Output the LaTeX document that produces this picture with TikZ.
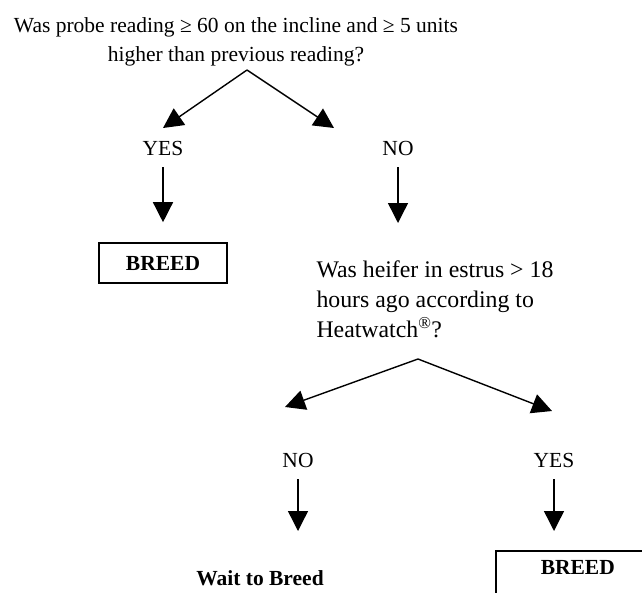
\documentclass[tikz,border=0pt]{standalone}
\usepackage{fontspec}
\setmainfont{Liberation Serif}
\usepackage{xcolor}
\usepackage{tikz}
\usetikzlibrary{
  positioning,
  calc,
  arrows.meta
}

\begin{document}
\begin{tikzpicture}[x=1pt,y=-1pt,
    font=\fontsize{21.5}{29}\selectfont,
    arr/.style={-{Triangle[length=20pt,width=20pt]},line width=1.4pt},
    ans/.style={inner sep=0pt},
    res/.style={font=\fontsize{21.5}{29}\selectfont\bfseries,inner sep=0pt},
    resbox/.style={res,draw,line width=1.6pt,inner xsep=0pt}]
  \useasboundingbox (0,0) rectangle (642,592);
  \clip (0,0) rectangle (642,592);
  % 最初の質問
  \node[align=center] (q1) at (236,42)
    {Was probe reading ≥ 60 on the incline and ≥ 5 units\\higher than previous reading?};
  \coordinate (s1) at (247,70);
  \coordinate (t1) at (163,128);
  \coordinate (t2) at (334,128);
  \draw[arr] (s1)--(t1);
  \draw[arr] (s1)--(t2);
  % 答え
  \node[ans] (yes1) at (163,148) {YES};
  \node[ans] (no1) at (398,148) {NO};
  \node[resbox,minimum width=128pt,minimum height=40pt] (breed1) at (163,263) {BREED};
  \coordinate (t3) at (398,223);
  \draw[arr] ([yshift=-12pt]yes1.south)--([yshift=20pt]breed1.north);
  \draw[arr] ([yshift=-12pt]no1.south)--(t3);
  % 二番目の質問
  \node[align=left,anchor=north west,font=\fontsize{23.8}{30}\selectfont] (q2) at (313,257)
    {Was heifer in estrus > 18\\hours ago according to\\Heatwatch\textsuperscript{\textregistered}?};
  \coordinate (s2) at (418,359);
  \coordinate (t4) at (285,407);
  \coordinate (t5) at (552,411);
  \draw[arr] (s2)--(t4);
  \draw[arr] (s2)--(t5);
  % 答え
  \node[ans] (no2) at (298,460) {NO};
  \node[ans] (yes2) at (554,460) {YES};
  \node[res] (wait) at (260,578) {Wait to Breed};
  \node[resbox,anchor=north west,minimum width=164pt,text height=15pt,
    text depth=40pt,inner ysep=9pt] (breed2) at (495,550) {BREED};
  \coordinate (t6) at (298,531);
  \coordinate (t7) at (554,531);
  \draw[arr] ([yshift=-12pt]no2.south)--(t6);
  \draw[arr] ([yshift=-12pt]yes2.south)--(t7);
\end{tikzpicture}
\end{document}
